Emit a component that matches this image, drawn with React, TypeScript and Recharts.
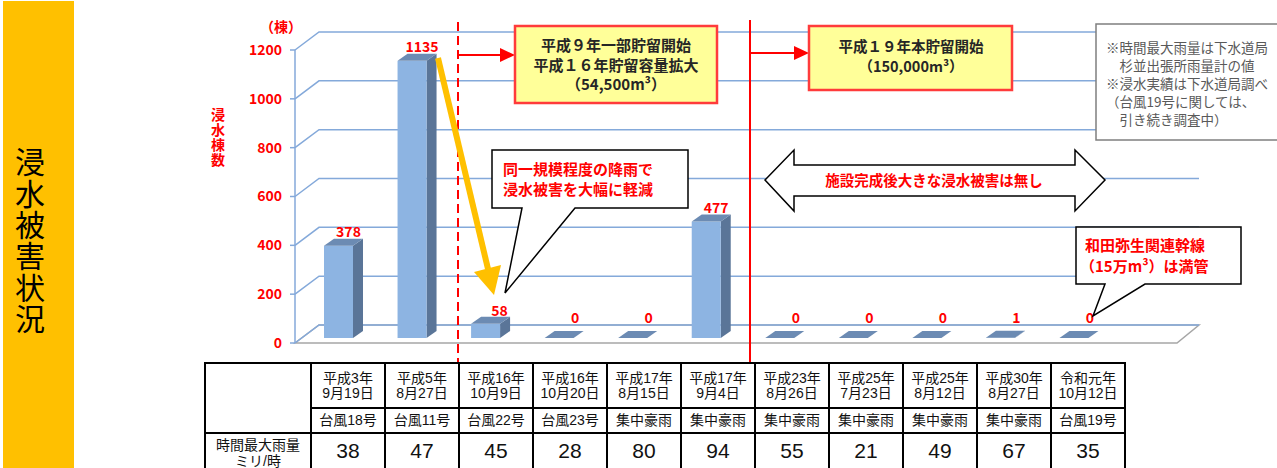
import { Bar, BarChart, CartesianGrid, LabelList, XAxis, YAxis } from "recharts";

// 浸水実績（棟数）と時間最大雨量
const eras = ["平成3年", "平成5年", "平成16年", "平成16年", "平成17年", "平成17年", "平成23年", "平成25年", "平成25年", "平成30年", "令和元年"];
const dates = ["9月19日", "8月27日", "10月9日", "10月20日", "8月15日", "9月4日", "8月26日", "7月23日", "8月12日", "8月27日", "10月12日"];
const causes = ["台風18号", "台風11号", "台風22号", "台風23号", "集中豪雨", "集中豪雨", "集中豪雨", "集中豪雨", "集中豪雨", "集中豪雨", "台風19号"];
const flooded = [378, 1135, 58, 0, 0, 477, 0, 0, 0, 1, 0];
const rainfall = [38, 47, 45, 28, 80, 94, 55, 21, 49, 67, 35];
const yTicks = [0, 200, 400, 600, 800, 1000, 1200];

const data = flooded.map((v, i) => ({ name: `${eras[i]}${dates[i]}`, flooded: v }));

const W = 1277;
const H = 468;
const PLOT_LEFT = 295;
const PLOT_RIGHT = 1175;
const PLOT_TOP = 50;
const PLOT_BOTTOM = 343;
// depth of the back wall / of the bars
const DX = 24;
const DY = 18;
const BDX = 10;
const BDY = 7;
const LIFT = 5;

const FONT = "'Noto Sans CJK JP', 'Noto Sans', sans-serif";
const TABLE_FONT = "'Liberation Sans', 'Noto Sans CJK JP', sans-serif";
const GRID = "#84A9DA";
const RED = "#FF0000";

function WallLine(props: any) {
  const { x1, x2, y1 } = props;
  const isFloor = Math.abs(y1 - PLOT_BOTTOM) < 0.5;
  return (
    <g key={props.key}>
      {isFloor && (
        <path
          d={`M${x1},${y1} L${x2 + 2},${y1} L${x2 + DX},${y1 - DY} L${x1 + DX},${y1 - DY} Z`}
          fill="#fff"
          stroke="#A6A6A6"
          strokeWidth={1.5}
        />
      )}
      <path
        d={`M${x1},${y1} L${x1 + DX},${y1 - DY} L${x2 + DX},${y1 - DY}`}
        fill="none"
        stroke={GRID}
        strokeWidth={1.5}
      />
    </g>
  );
}

function Bar3D(props: any) {
  const { x, y, width, height } = props;
  const top = y - LIFT;
  const bottom = y + Math.max(height, 0) - LIFT;
  const r = x + width;
  return (
    <g>
      <path
        d={`M${r},${top} L${r + BDX},${top - BDY} L${r + BDX},${bottom - BDY} L${r},${bottom} Z`}
        fill="#5A7598"
      />
      <rect x={x} y={top} width={width} height={bottom - top} fill="#8DB4E2" />
      <path
        d={`M${x},${top} L${x + BDX},${top - BDY} L${r + BDX},${top - BDY} L${r},${top} Z`}
        fill="#6C8BB3"
      />
    </g>
  );
}

function ValueTag(props: any) {
  const vb = props.viewBox ?? props;
  const { x, y, width, height } = vb;
  const flat = height < 3;
  const short = height < 30;
  const cx = x + width / 2 + (flat ? 16 : short ? 14 : 10);
  const base = y - LIFT - (flat ? 15 : short ? 8 : 9);
  return (
    <text x={cx} y={base} textAnchor="middle" fill={RED} fontSize={14} fontWeight={700} fontFamily={FONT}>
      {props.value}
    </text>
  );
}

function Overlay() {
  const t = { fontFamily: FONT } as const;
  return (
    <svg width={W} height={H} style={{ position: "absolute", left: 0, top: 0, pointerEvents: "none" }}>
      {/* 施設の区切り */}
      <line x1={458} y1={22} x2={458} y2={362} stroke={RED} strokeWidth={2} strokeDasharray="9 5" />
      <line x1={750} y1={20} x2={750} y2={362} stroke={RED} strokeWidth={2} />
      <line x1={458} y1={55} x2={502} y2={55} stroke={RED} strokeWidth={2} />
      <polygon points="500,48 515,55 500,62" fill={RED} />
      <line x1={750} y1={53} x2={796} y2={53} stroke={RED} strokeWidth={2} />
      <polygon points="794,46 809,53 794,60" fill={RED} />

      <rect x={515} y={26} width={202} height={77} fill="#FFFF99" stroke="#FF3B3B" strokeWidth={2.5} />
      <g {...t} fontSize={15} fontWeight={700} fill="#262626" textAnchor="middle">
        <text x={616} y={51}>平成９年一部貯留開始</text>
        <text x={616} y={71}>平成１６年貯留容量拡大</text>
        <text x={616} y={90}>（54,500m³）</text>
      </g>

      <rect x={809} y={26} width={203} height={64} fill="#FFFF99" stroke="#FF3B3B" strokeWidth={2.5} />
      <g {...t} fontSize={14.5} fontWeight={700} fill="#262626" textAnchor="middle">
        <text x={911} y={52}>平成１９年本貯留開始</text>
        <text x={911} y={72}>（150,000m³）</text>
      </g>

      <rect x={1096} y={24} width={200} height={116} fill="#fff" stroke="#7F7F7F" strokeWidth={1.5} />
      <g {...t} fontSize={13.5} fill="#595959">
        <text x={1106} y={53}>※時間最大雨量は下水道局</text>
        <text x={1106} y={71}>　杉並出張所雨量計の値</text>
        <text x={1106} y={89}>※浸水実績は下水道局調べ</text>
        <text x={1106} y={107}>（台風19号に関しては、</text>
        <text x={1106} y={125}>　引き続き調査中）</text>
      </g>

      {/* 降雨規模の比較 */}
      <line x1={438} y1={58} x2={488} y2={269} stroke="#FFC000" strokeWidth={6} />
      <polygon points="474,272 501,265 494,295" fill="#FFC000" />

      <path d="M492,150 H688 V208 H575 L505,293 L522,208 H492 Z" fill="#fff" stroke="#000" strokeWidth={1.5} />
      <g {...t} fontSize={15} fontWeight={700} fill={RED}>
        <text x={503} y={175}>同一規模程度の降雨で</text>
        <text x={503} y={195}>浸水被害を大幅に軽減</text>
      </g>

      <polygon
        points="765,180 794,150 794,165 1075,165 1075,150 1105,180 1075,211 1075,196 794,196 794,211"
        fill="#fff"
        stroke="#000"
        strokeWidth={1.5}
      />
      <text x={934} y={186} textAnchor="middle" {...t} fontSize={14.5} fontWeight={700} fill={RED}>
        施設完成後大きな浸水被害は無し
      </text>

      <path d="M1076,227 H1241 V284 H1145 L1093,316 L1105,284 H1076 Z" fill="#fff" stroke="#000" strokeWidth={1.5} />
      <g {...t} fontSize={15} fontWeight={700} fill={RED}>
        <text x={1085} y={251}>和田弥生関連幹線</text>
        <text x={1080} y={272}>（15万m³）は満管</text>
      </g>

      {/* 軸タイトル */}
      <text x={281} y={32} textAnchor="middle" {...t} fontSize={14} fontWeight={700} fill={RED}>
        （棟）
      </text>
    </svg>
  );
}

const cell: React.CSSProperties = {
  border: "2px solid #000",
  padding: 0,
  textAlign: "center",
  verticalAlign: "middle",
  lineHeight: "15px",
  fontSize: 14,
  color: "#111",
};

function RainTable() {
  return (
    <table
      style={{
        position: "absolute",
        left: 204,
        top: 362,
        width: 920,
        borderCollapse: "collapse",
        tableLayout: "fixed",
        fontFamily: TABLE_FONT,
        background: "#fff",
      }}
    >
      <colgroup>
        <col style={{ width: 106 }} />
        {eras.map((_, i) => (
          <col key={i} style={{ width: 74 }} />
        ))}
      </colgroup>
      <tbody>
        <tr style={{ height: 45 }}>
          <td rowSpan={2} style={cell} />
          {eras.map((e, i) => (
            <td key={i} style={cell}>
              {e}
              <br />
              {dates[i]}
            </td>
          ))}
        </tr>
        <tr style={{ height: 25 }}>
          {causes.map((c, i) => (
            <td key={i} style={cell}>
              {c}
            </td>
          ))}
        </tr>
        <tr style={{ height: 40 }}>
          <td style={{ ...cell, lineHeight: "16px", verticalAlign: "top", paddingTop: 3 }}>
            時間最大雨量
            <br />
            ミリ/時
          </td>
          {rainfall.map((r, i) => (
            <td key={i} style={{ ...cell, fontSize: 21, lineHeight: "22px", verticalAlign: "top", paddingTop: 6 }}>
              {r}
            </td>
          ))}
        </tr>
      </tbody>
    </table>
  );
}

export default function App() {
  return (
    <div
      style={{
        position: "absolute",
        left: 0,
        top: 0,
        width: W,
        height: H,
        overflow: "hidden",
        background: "#fff",
        fontFamily: FONT,
      }}
    >
      <div style={{ position: "absolute", left: 3, top: 1, width: 71, height: 467, background: "#FFC000" }}>
        <div
          style={{
            position: "absolute",
            left: 12,
            top: 146,
            writingMode: "vertical-rl",
            fontSize: 30,
            lineHeight: "30px",
            letterSpacing: 1.3,
            color: "#000",
          }}
        >
          浸水被害状況
        </div>
      </div>

      <div style={{ position: "absolute", left: 0, top: 0 }}>
        <BarChart
          width={W}
          height={H}
          data={data}
          margin={{ top: PLOT_TOP, bottom: H - PLOT_BOTTOM, left: PLOT_LEFT - 60, right: W - PLOT_RIGHT }}
          barSize={29}
        >
          <CartesianGrid vertical={false} horizontal={(p: any) => <WallLine {...p} />} />
          <XAxis dataKey="name" hide padding={{ left: 7, right: 64 }} />
          <YAxis
            domain={[0, 1200]}
            ticks={yTicks}
            interval={0}
            width={60}
            tickSize={5}
            tickMargin={8}
            axisLine={{ stroke: GRID, strokeWidth: 1.5 }}
            tickLine={{ stroke: GRID, strokeWidth: 1.5 }}
            tick={{ fill: RED, fontSize: 14, fontWeight: 700, fontFamily: FONT }}
          />
          <Bar dataKey="flooded" shape={(p: any) => <Bar3D {...p} />} isAnimationActive={false}>
            <LabelList dataKey="flooded" content={(p: any) => <ValueTag {...p} />} />
          </Bar>
        </BarChart>
      </div>

      <div
        style={{
          position: "absolute",
          left: 211,
          top: 108,
          writingMode: "vertical-rl",
          fontSize: 14,
          lineHeight: "14px",
          letterSpacing: 1,
          fontWeight: 700,
          color: RED,
        }}
      >
        浸水棟数
      </div>

      <Overlay />
      <RainTable />
    </div>
  );
}
